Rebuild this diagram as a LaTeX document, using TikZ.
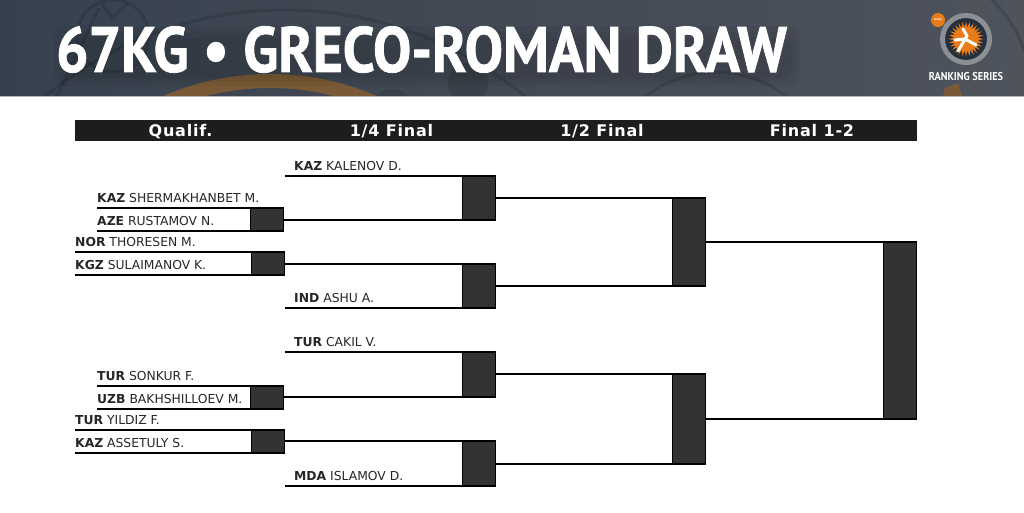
\documentclass[tikz,border=0pt]{standalone}
\usepackage{fontspec}
\setmainfont{DejaVu Sans}
\newfontfamily\titlefont[FakeStretch=0.896,FakeBold=1.2]{PT Sans}
\newfontfamily\seriesfont[FakeStretch=0.9]{PT Sans}
\newfontfamily\barfont[LetterSpace=5]{DejaVu Sans}
\usetikzlibrary{positioning,shapes.geometric,calc}
\definecolor{HeadLeft}{RGB}{55,65,78}
\definecolor{HeadRight}{RGB}{78,83,92}
\definecolor{BarBlack}{RGB}{31,28,29}
\definecolor{BoutGray}{RGB}{51,51,51}
\definecolor{ArcBrown}{RGB}{122,90,54}
\definecolor{LogoOrange}{RGB}{232,124,24}
\definecolor{RingGray}{RGB}{140,143,148}
\definecolor{LogoDark}{RGB}{38,48,60}
\tikzset{
  player/.style={anchor=south west,inner xsep=0pt,inner ysep=5.5pt,font=\fontsize{12.35}{14}\selectfont,text=black!85,text height=9pt,text depth=0pt},
  seeded/.style={player,inner xsep=9pt},
  bout/.style={draw=black,fill=BoutGray,line width=1.2pt,minimum width=33pt,inner sep=0pt,outer sep=0pt},
  wire/.style={black,line width=1.6pt},
  round label/.style={anchor=base,font=\fontsize{16}{18}\barfont\bfseries,text=white},
  title/.style={font=\fontsize{64}{70}\titlefont\bfseries,text=white},
  glow/.style={black,opacity=0.045,rounded corners=12pt},
  decor/.style={black,opacity=0.13,line width=3pt},
  blob/.style={black,opacity=0.12}
}
\begin{document}
\begin{tikzpicture}[x=1pt,y=-1pt]
\useasboundingbox (0,0) rectangle (1024,512);

% Header band
\begin{scope}
\clip (0,0) rectangle (1024,96);
\shade[left color=HeadLeft,right color=HeadRight] (0,0) rectangle (1024,96);
\draw[decor] (113,36) circle (36);
\draw[decor] (57,96) -- (99,8);
\draw[decor] (102,4) -- (112,18) -- (127,4);
\draw[decor] (285,386) circle (376);
\draw[decor] (716,186) circle (114);
\draw[decor] (990,-2) .. controls (1008,15) and (1018,32) .. (1026,55);
\fill[blob] (392,110) circle (21);
\fill[blob] (468,83) circle (20);
\draw[ArcBrown,line width=14pt] (270,343) circle (262);
\fill[ArcBrown] (945,88) -- (958,83) -- (962,96) -- (943,96) -- cycle;
\fill[glow] (54,26) rectangle (800,86);
\fill[glow] (60,32) rectangle (796,82);
\fill[glow] (66,38) rectangle (792,78);
\end{scope}
\draw[gray!60,line width=0.6pt] (0,96) -- (1024,96);

\node[title] (headtitle) at (421.5,49.5) {67KG • GRECO-ROMAN DRAW};

% Logo
\node[circle,draw=RingGray,line width=5pt,fill=LogoDark,minimum size=47pt,inner sep=0pt] (ring) at (966,39) {};
\node[star,star points=28,star point ratio=1.5,fill=LogoOrange,minimum size=35pt,inner sep=0pt] (burst) at (966,39) {};
\draw[white,line width=3pt,line cap=round,line join=round] (963,29) -- (967,36) -- (958,51);
\draw[white,line width=3pt,line cap=round,line join=round] (955,40) -- (965,39) -- (976,45);
\node[circle,fill=LogoOrange,minimum size=14pt,inner sep=0pt,font=\fontsize{3}{4}\selectfont\bfseries,text=white] (uww) at (938,20) {uww};
\node[font=\fontsize{11.4}{14}\seriesfont\bfseries,text=white] (series) at (966,77) {RANKING SERIES};

% Rounds bar
\node[fill=BarBlack,minimum width=842pt,minimum height=21pt,inner sep=0pt] (bar) at (496,130.5) {};
\node[round label] (r1) at (180.5,136) {Qualif.};
\node[round label] (r2) at (391.5,136) {1/4 Final};
\node[round label] (r3) at (602,136) {1/2 Final};
\node[round label] (r4) at (812,136) {Final 1-2};

% Bouts
\node[bout,minimum height=23pt] (q1) at (267,219.5) {};
\node[bout,minimum height=23pt] (q2) at (268,263.5) {};
\node[bout,minimum height=23pt] (q3) at (267,397.5) {};
\node[bout,minimum height=23pt] (q4) at (268,441.5) {};
\node[bout,minimum height=44pt] (f1) at (479,198) {};
\node[bout,minimum height=44pt] (f2) at (479,286) {};
\node[bout,minimum height=45pt] (f3) at (479,374.5) {};
\node[bout,minimum height=45pt] (f4) at (479,463.5) {};
\node[bout,minimum height=88pt] (s1) at (689,242) {};
\node[bout,minimum height=90pt] (s2) at (689,419) {};
\node[bout,minimum height=177pt] (w) at (900,330.5) {};

% Players
\node[player] (p1) at (97,208) {\textbf{KAZ} SHERMAKHANBET M.};
\node[player] (p2) at (97,231) {\textbf{AZE} RUSTAMOV N.};
\node[player] (p3) at (75,252) {\textbf{NOR} THORESEN M.};
\node[player] (p4) at (75,275) {\textbf{KGZ} SULAIMANOV K.};
\node[player] (p5) at (97,386) {\textbf{TUR} SONKUR F.};
\node[player] (p6) at (97,409) {\textbf{UZB} BAKHSHILLOEV M.};
\node[player] (p7) at (75,430) {\textbf{TUR} YILDIZ F.};
\node[player] (p8) at (75,453) {\textbf{KAZ} ASSETULY S.};
\node[seeded] (s3) at (285,176) {\textbf{KAZ} KALENOV D.};
\node[seeded] (s4) at (285,308) {\textbf{IND} ASHU A.};
\node[seeded] (s5) at (285,352) {\textbf{TUR} CAKIL V.};
\node[seeded] (s6) at (285,486) {\textbf{MDA} ISLAMOV D.};

\draw[wire] (p1.south west) -- (q1.north east);
\draw[wire] (p2.south west) -- (q1.south east);
\draw[wire] (p3.south west) -- (q2.north east);
\draw[wire] (p4.south west) -- (q2.south east);
\draw[wire] (p5.south west) -- (q3.north east);
\draw[wire] (p6.south west) -- (q3.south east);
\draw[wire] (p7.south west) -- (q4.north east);
\draw[wire] (p8.south west) -- (q4.south east);

\draw[wire] (s3.south west) -- (f1.north east);
\draw[wire] ([yshift=-0.5pt]q1.east) -- (f1.south east);
\draw[wire] ([yshift=-0.5pt]q2.east) -- (f2.north east);
\draw[wire] (s4.south west) -- (f2.south east);
\draw[wire] (s5.south west) -- (f3.north east);
\draw[wire] ([yshift=0.5pt]q3.east) -- (f3.south east);
\draw[wire] ([yshift=0.5pt]q4.east) -- (f4.north east);
\draw[wire] (s6.south west) -- (f4.south east);

\draw[wire] (f1.east) -- (s1.north east);
\draw[wire] (f2.east) -- (s1.south east);
\draw[wire] ([yshift=0.5pt]f3.east) -- (s2.north east);
\draw[wire] ([yshift=-0.5pt]f4.east) -- (s2.south east);
\draw[wire] (s1.east) -- (w.north east);
\draw[wire] (s2.east) -- (w.south east);

\end{tikzpicture}
\end{document}
